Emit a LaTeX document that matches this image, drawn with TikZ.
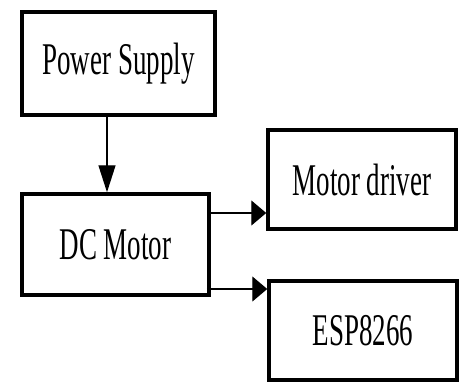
\documentclass[tikz,border=0pt]{standalone}
\usepackage{fontspec}
\setmainfont{Liberation Serif}
\usepackage{graphicx}
\usetikzlibrary{arrows.meta}

\newcommand{\hochtext}[1]{\scalebox{1}[1.68]{#1}}

\begin{document}
\begin{tikzpicture}[x=1pt, y=1pt,
		kasten/.style={draw, line width=3.5pt, inner sep=0pt, font=\fontsize{27}{30}\selectfont},
		pfeil/.style={-{Triangle[length=15pt, width=25pt]}, line width=1.4pt},
		pfeilv/.style={-{Triangle[length=27pt, width=17pt]}, line width=1.4pt}]
		
		%Rahmen
		\useasboundingbox (0,0) rectangle (461,384);
		
		%Kaesten
		\node [kasten, minimum width=193, minimum height=103] (ps) at (118.5,320.5) {\hochtext{Power Supply}};
		\node [kasten, minimum width=187, minimum height=101] (dc) at (115.5,139.5) {\hochtext{DC Motor}};
		\node [kasten, minimum width=188, minimum height=99] (md) at (362,204.5) {\hochtext{Motor driver}};
		\node [kasten, minimum width=188, minimum height=99] (esp) at (363,53.5) {\hochtext{ESP8266}};
		
		%Pfeile
		\draw [pfeilv] ([xshift=-11.5pt]ps.south) -- ([xshift=-8.5pt]dc.north);
		\draw [pfeil] ([yshift=31.5pt]dc.east) -- ([yshift=31.5pt]dc.east -| md.west);
		\draw [pfeil] ([xshift=-4pt, yshift=-44.5pt]dc.east) -- ([yshift=-44.5pt]dc.east -| esp.west);
		
	\end{tikzpicture}
\end{document}
